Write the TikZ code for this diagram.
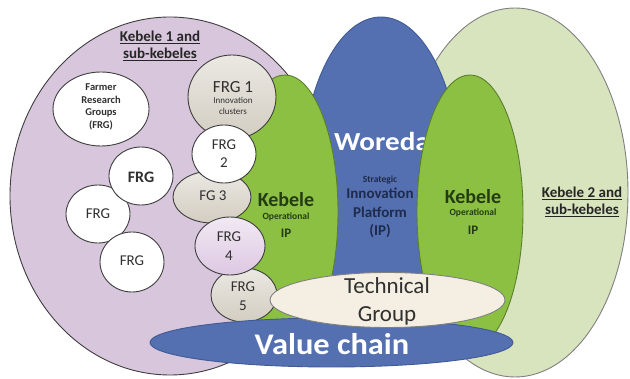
\documentclass[tikz,border=0pt]{standalone}
\usepackage{fontspec}
\setmainfont{Carlito}
\definecolor{purp}{HTML}{D8C6DC}
\definecolor{lgreen}{HTML}{D8E4BE}
\definecolor{kgreen}{HTML}{8CC043}
\definecolor{kedge}{HTML}{5C7F2C}
\definecolor{wblue}{HTML}{5470B0}
\definecolor{bedge}{HTML}{3F5A94}
\definecolor{cream}{HTML}{F4EFE2}
\definecolor{ktext}{HTML}{243C14}
\definecolor{itext}{HTML}{1E2B4C}
\definecolor{frggray}{HTML}{D3CDC1}
\definecolor{frgpink}{HTML}{DDC8E2}
\definecolor{edge}{HTML}{3E3E3E}
\definecolor{ttext}{HTML}{303030}
\begin{document}
\begin{tikzpicture}[x=1pt,y=-1pt,
  blob/.style={draw=edge, line width=0.9pt},
  frg/.style={blob, top color=white, bottom color=white},
  frggr/.style={blob, top color=frggray!45, bottom color=frggray},
  lbl/.style={align=center, inner sep=0pt, text=ttext},
  kebtxt/.style={align=center, inner sep=0pt, text=ktext},
]
\useasboundingbox (0,0) rectangle (630,379);
% background ellipses
\path[blob, fill=purp] (170,196) ellipse [x radius=160pt, y radius=179pt];
\path[blob, draw=gray, fill=lgreen] (515,192.5) ellipse [x radius=113pt, y radius=184.5pt];
\path[draw=bedge, line width=0.9pt, fill=wblue] (381,185) ellipse [x radius=80pt, y radius=168pt];
\node[inner sep=0pt, text=white, xscale=1.12, font=\fontsize{26}{28}\selectfont\bfseries] (woreda) at (382,141) {Woreda};
\path[draw=kedge, line width=0.9pt, fill=kgreen] (285,212) ellipse [x radius=53pt, y radius=137pt];
\path[draw=kedge, line width=0.9pt, fill=kgreen] (470,212) ellipse [x radius=53pt, y radius=137pt];
% titles
\node[lbl, text=black!85, font=\fontsize{15}{17}\selectfont\bfseries] (k1) at (160,46) {\underline{Kebele 1 and}\\\underline{sub-kebeles}};
\node[lbl, text=black!85, font=\fontsize{15}{17}\selectfont\bfseries] (k2) at (582,202) {\underline{Kebele 2 and}\\\underline{sub-kebeles}};
% Woreda IP text
\node[inner sep=0pt, text=itext, font=\fontsize{9.5}{10}\selectfont\bfseries] (strat) at (380,180) {Strategic};
\node[align=center, inner sep=0pt, text=itext, font=\fontsize{15}{18.5}\selectfont\bfseries] (sip) at (380,213) {Innovation\\Platform\\(IP)};
% Kebele operational IP texts
\node[kebtxt, font=\fontsize{20}{22}\selectfont\bfseries] (kl) at (286,200) {Kebele};
\node[kebtxt, font=\fontsize{9.5}{10}\selectfont\bfseries] (ol) at (286,217) {Operational};
\node[kebtxt, font=\fontsize{13}{14}\selectfont\bfseries] (il) at (286,233) {IP};
\node[kebtxt, font=\fontsize{20}{22}\selectfont\bfseries] (kr) at (473,197) {Kebele};
\node[kebtxt, font=\fontsize{9.5}{10}\selectfont\bfseries] (or) at (473,213) {Operational};
\node[kebtxt, font=\fontsize{13}{14}\selectfont\bfseries] (ir) at (473,230) {IP};
% FRG circles
\path[frg] (101,109) ellipse [x radius=48pt, y radius=37pt];
\node[lbl, font=\fontsize{10.5}{12.7}\selectfont\bfseries] (farmer) at (101,107) {Farmer\\Research\\Groups\\(FRG)};
\path[frg] (98,214) ellipse [x radius=32pt, y radius=29pt];
\node[lbl, font=\fontsize{15}{16}\selectfont] (fl) at (98,214) {FRG};
\path[frg] (141,176) ellipse [x radius=32pt, y radius=29pt];
\node[lbl, font=\fontsize{16}{17}\selectfont\bfseries] (fu) at (141,177) {FRG};
\path[frg] (132,262) ellipse [x radius=32pt, y radius=30pt];
\node[lbl, font=\fontsize{15}{16}\selectfont] (fd) at (132,261) {FRG};
\path[frggr] (232,97) ellipse [x radius=44pt, y radius=42pt];
\node[lbl, font=\fontsize{17}{18}\selectfont] (f1) at (233,87) {FRG 1};
\node[lbl, font=\fontsize{9}{11}\selectfont] (f1s) at (233,106) {Innovation\\clusters};
\path[frggr] (212,197) ellipse [x radius=39pt, y radius=26pt];
\node[lbl, font=\fontsize{15}{16}\selectfont] (f3) at (213,196) {FG 3};
\path[frg] (224,154) ellipse [x radius=32pt, y radius=29pt];
\node[lbl, font=\fontsize{15}{18}\selectfont] (f2) at (224,154) {FRG\\2};
\path[frggr] (244,295) ellipse [x radius=33pt, y radius=27pt];
\node[lbl, font=\fontsize{15}{19}\selectfont] (f5) at (243,296) {FRG\\5};
\path[blob, top color=frgpink!40, bottom color=frgpink] (230,246) ellipse [x radius=35pt, y radius=29pt];
\node[lbl, font=\fontsize{15}{19}\selectfont] (f4) at (229,246) {FRG\\4};
% value chain and technical group
\path[draw=bedge, line width=0.9pt, fill=wblue] (331.5,342.5) ellipse [x radius=181.5pt, y radius=24.5pt];
\node[inner sep=0pt, text=white, xscale=1.08, font=\fontsize{30}{32}\selectfont\bfseries] (vc) at (332,344) {Value chain};
\path[blob, draw=gray, fill=cream] (387.5,300) ellipse [x radius=117.5pt, y radius=27.5pt];
\node[lbl, font=\fontsize{23}{28}\selectfont] (tg) at (387,301) {Technical\\Group};
\end{tikzpicture}
\end{document}
